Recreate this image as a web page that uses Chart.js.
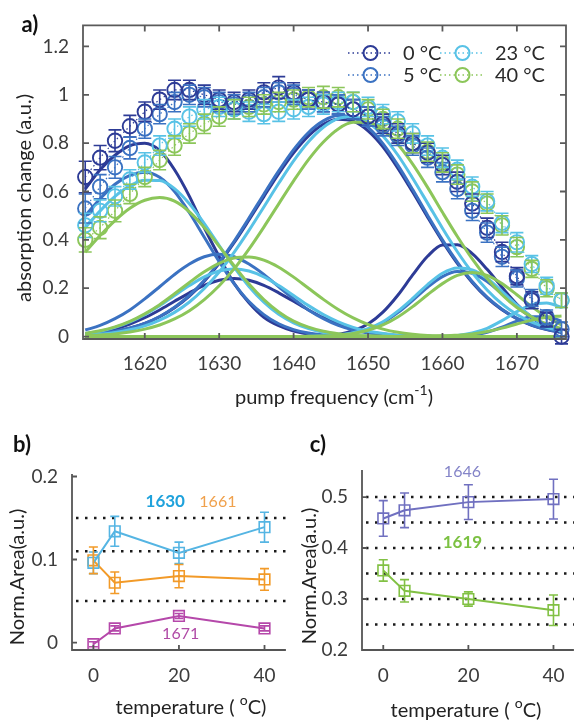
<!DOCTYPE html>
<html>
<head>
<meta charset="utf-8">
<script src="https://cdn.jsdelivr.net/npm/chart.js@4.4.0/dist/chart.umd.min.js"></script>
<style>
  html, body { margin: 0; padding: 0; background: #fff; }
  #fig { position: relative; width: 583px; height: 722px; overflow: hidden; }
  #fig canvas { position: absolute; }
</style>
</head>
<body>
<div id="fig">
  <canvas id="chartA" width="583" height="420" style="left:0;top:0"></canvas>
  <canvas id="chartB" width="295" height="302" style="left:0;top:420px"></canvas>
  <canvas id="chartC" width="288" height="302" style="left:295px;top:420px"></canvas>
</div>
<script>
const FONT = 'Lato, "Open Sans", "DejaVu Sans", sans-serif';
const INK = '#3c3c3c';

// ---- panel a: pump frequency grid (cm-1) and axis ticks
const freq = [1612, 1614, 1616, 1618, 1620, 1622, 1624, 1626, 1628, 1630, 1632, 1634, 1636, 1638, 1640, 1642, 1644,
              1646, 1648, 1650, 1652, 1654, 1656, 1658, 1660, 1662, 1664, 1666, 1668, 1670, 1672, 1674, 1676];
const freqTicks = [1620, 1630, 1640, 1650, 1660, 1670];
const absTicks = [0, 0.2, 0.4, 0.6, 0.8, 1, 1.2];

// measured absorption change (a.u.) and error bars
const absT0  = [0.66, 0.74, 0.81, 0.87, 0.93, 0.98, 1.02, 1.02, 1.00, 0.98, 0.97, 0.98, 1.01, 1.03, 1.01, 0.98, 0.97,
                0.96, 0.94, 0.91, 0.88, 0.84, 0.80, 0.76, 0.71, 0.64, 0.55, 0.45, 0.35, 0.25, 0.15, 0.07, 0.00];
const absT5  = [0.53, 0.62, 0.70, 0.78, 0.86, 0.92, 0.97, 1.00, 0.99, 0.97, 0.96, 0.97, 0.99, 1.01, 1.00, 0.98, 0.97,
                0.96, 0.94, 0.91, 0.87, 0.83, 0.79, 0.74, 0.68, 0.61, 0.52, 0.43, 0.33, 0.24, 0.16, 0.08, 0.03];
const absT23 = [0.46, 0.52, 0.58, 0.65, 0.72, 0.79, 0.86, 0.91, 0.94, 0.95, 0.94, 0.93, 0.92, 0.93, 0.94, 0.95, 0.96,
                0.97, 0.97, 0.95, 0.92, 0.89, 0.84, 0.79, 0.74, 0.69, 0.62, 0.56, 0.47, 0.39, 0.30, 0.21, 0.15];
const absT40 = [0.40, 0.45, 0.52, 0.59, 0.66, 0.73, 0.79, 0.84, 0.88, 0.91, 0.94, 0.95, 0.96, 0.97, 0.98, 0.99, 0.99,
                0.99, 0.97, 0.94, 0.90, 0.86, 0.80, 0.765, 0.72, 0.67, 0.60, 0.55, 0.46, 0.37, 0.28, 0.20, 0.15];
const errT0  = [0.065, 0.05, 0.045, 0.045, 0.04, 0.04, 0.04, 0.04, 0.04, 0.04, 0.04, 0.04, 0.04, 0.045, 0.04, 0.04, 0.04,
                0.04, 0.04, 0.04, 0.04, 0.04, 0.04, 0.04, 0.04, 0.04, 0.04, 0.04, 0.04, 0.035, 0.035, 0.03, 0.03];
const errT5  = [0.06, 0.05, 0.045, 0.045, 0.04, 0.04, 0.04, 0.04, 0.04, 0.04, 0.04, 0.04, 0.04, 0.04, 0.04, 0.04, 0.04,
                0.04, 0.04, 0.04, 0.04, 0.04, 0.04, 0.04, 0.04, 0.04, 0.04, 0.04, 0.04, 0.035, 0.035, 0.03, 0.03];
const errT23 = [0.05, 0.045, 0.04, 0.04, 0.04, 0.04, 0.04, 0.04, 0.04, 0.04, 0.04, 0.04, 0.04, 0.04, 0.04, 0.04, 0.04,
                0.04, 0.04, 0.04, 0.04, 0.04, 0.04, 0.04, 0.04, 0.04, 0.04, 0.04, 0.04, 0.04, 0.035, 0.035, 0.03];
const errT40 = [0.05, 0.045, 0.045, 0.04, 0.04, 0.04, 0.04, 0.04, 0.04, 0.04, 0.04, 0.04, 0.04, 0.04, 0.04, 0.04, 0.045,
                0.04, 0.04, 0.04, 0.04, 0.04, 0.04, 0.04, 0.04, 0.04, 0.04, 0.04, 0.04, 0.04, 0.035, 0.035, 0.03];

// fitted band components on the same grid
const fit0_1619 = [0.61, 0.69, 0.75, 0.79, 0.80, 0.77, 0.69, 0.58, 0.45, 0.33, 0.22, 0.14, 0.08, 0.045, 0.023, 0.011, 0.005,
                   0, 0, 0, 0, 0, 0, 0, 0, 0, 0, 0, 0, 0, 0, 0, 0];
const fit0_1630 = [0.011, 0.019, 0.032, 0.052, 0.078, 0.11, 0.146, 0.181, 0.212, 0.233, 0.24, 0.233, 0.212, 0.181, 0.146, 0.11, 0.078,
                   0.052, 0.032, 0.019, 0.011, 0.005, 0.003, 0.001, 0, 0, 0, 0, 0, 0, 0, 0, 0];
const fit0_1646 = [0.008, 0.013, 0.022, 0.035, 0.054, 0.082, 0.119, 0.167, 0.229, 0.303, 0.388, 0.482, 0.579, 0.674, 0.76, 0.83, 0.878,
                   0.899, 0.891, 0.851, 0.785, 0.697, 0.598, 0.494, 0.394, 0.303, 0.224, 0.160, 0.111, 0.074, 0.047, 0.029, 0.017];
const fit0_1661 = [0, 0, 0, 0, 0, 0, 0, 0, 0, 0, 0, 0, 0, 0, 0, 0.001, 0.003,
                   0.009, 0.024, 0.052, 0.101, 0.171, 0.255, 0.332, 0.379, 0.38, 0.343, 0.278, 0.204, 0.134, 0.08, 0.043, 0.021];
const fit0_1671 = [0, 0, 0, 0, 0, 0, 0, 0, 0, 0, 0, 0, 0, 0, 0, 0, 0,
                   0, 0, 0, 0, 0, 0, 0, 0, 0, 0, 0, 0, 0, 0, 0, 0];

const fit5_1619 = [0.50, 0.57, 0.63, 0.667, 0.68, 0.659, 0.60, 0.512, 0.411, 0.31, 0.219, 0.145, 0.091, 0.053, 0.029, 0.015, 0.007,
                   0.003, 0.001, 0, 0, 0, 0, 0, 0, 0, 0, 0, 0, 0, 0, 0, 0];
const fit5_1630 = [0.027, 0.046, 0.074, 0.11, 0.156, 0.206, 0.257, 0.30, 0.33, 0.34, 0.33, 0.30, 0.257, 0.206, 0.156, 0.11, 0.074,
                   0.046, 0.027, 0.015, 0.008, 0.004, 0.002, 0.001, 0, 0, 0, 0, 0, 0, 0, 0, 0];
const fit5_1646 = [0.008, 0.013, 0.022, 0.036, 0.055, 0.083, 0.121, 0.17, 0.233, 0.308, 0.394, 0.49, 0.589, 0.685, 0.773, 0.844, 0.892,
                   0.914, 0.906, 0.865, 0.798, 0.709, 0.608, 0.502, 0.40, 0.308, 0.228, 0.163, 0.113, 0.075, 0.048, 0.03, 0.018];
const fit5_1661 = [0, 0, 0, 0, 0, 0, 0, 0, 0, 0, 0, 0, 0, 0, 0, 0.001, 0.002,
                   0.006, 0.015, 0.031, 0.058, 0.099, 0.15, 0.204, 0.248, 0.269, 0.262, 0.228, 0.177, 0.124, 0.077, 0.043, 0.021];
const fit5_1671 = [0, 0, 0, 0, 0, 0, 0, 0, 0, 0, 0, 0, 0, 0, 0, 0, 0,
                   0, 0, 0, 0, 0, 0, 0, 0, 0.002, 0.007, 0.018, 0.039, 0.064, 0.082, 0.082, 0.064];

const fit23_1619 = [0.45, 0.52, 0.58, 0.624, 0.647, 0.646, 0.612, 0.549, 0.467, 0.376, 0.287, 0.207, 0.142, 0.092, 0.057, 0.033, 0.018,
                    0.01, 0.005, 0.002, 0, 0, 0, 0, 0, 0, 0, 0, 0, 0, 0, 0, 0];
const fit23_1630 = [0.013, 0.022, 0.038, 0.061, 0.091, 0.128, 0.17, 0.211, 0.247, 0.271, 0.28, 0.271, 0.247, 0.211, 0.17, 0.128, 0.091,
                    0.061, 0.038, 0.022, 0.013, 0.006, 0.003, 0.001, 0, 0, 0, 0, 0, 0, 0, 0, 0];
const fit23_1646 = [0.006, 0.01, 0.017, 0.028, 0.044, 0.068, 0.10, 0.143, 0.199, 0.267, 0.348, 0.439, 0.536, 0.634, 0.727, 0.806, 0.866,
                    0.902, 0.909, 0.885, 0.83, 0.751, 0.655, 0.552, 0.448, 0.351, 0.265, 0.193, 0.135, 0.091, 0.06, 0.038, 0.023];
const fit23_1661 = [0, 0, 0, 0, 0, 0, 0, 0, 0, 0, 0, 0, 0, 0, 0, 0.001, 0.002,
                    0.006, 0.016, 0.033, 0.061, 0.105, 0.158, 0.215, 0.262, 0.284, 0.276, 0.241, 0.187, 0.131, 0.081, 0.045, 0.022];
const fit23_1671 = [0, 0, 0, 0, 0, 0, 0, 0, 0, 0, 0, 0, 0, 0, 0, 0, 0,
                    0, 0, 0, 0, 0, 0, 0, 0.001, 0.005, 0.015, 0.034, 0.066, 0.103, 0.132, 0.139, 0.12];

const fit40_1619 = [0.349, 0.418, 0.48, 0.531, 0.564, 0.575, 0.56, 0.516, 0.451, 0.373, 0.293, 0.217, 0.153, 0.102, 0.064, 0.039, 0.022,
                    0.012, 0.006, 0.003, 0.001, 0, 0, 0, 0, 0, 0, 0, 0, 0, 0, 0, 0];
const fit40_1630 = [0.013, 0.024, 0.04, 0.063, 0.094, 0.132, 0.177, 0.224, 0.268, 0.303, 0.325, 0.329, 0.316, 0.287, 0.246, 0.20, 0.154,
                    0.112, 0.077, 0.05, 0.031, 0.018, 0.01, 0.005, 0.003, 0.001, 0, 0, 0, 0, 0, 0, 0];
const fit40_1646 = [0.004, 0.007, 0.011, 0.019, 0.031, 0.048, 0.073, 0.107, 0.153, 0.21, 0.28, 0.362, 0.453, 0.549, 0.644, 0.732, 0.805,
                    0.859, 0.886, 0.886, 0.854, 0.795, 0.713, 0.617, 0.514, 0.414, 0.321, 0.24, 0.173, 0.12, 0.081, 0.052, 0.033];
const fit40_1661 = [0, 0, 0, 0, 0, 0, 0, 0, 0, 0, 0, 0, 0, 0, 0, 0.001, 0.002,
                    0.006, 0.013, 0.026, 0.048, 0.081, 0.124, 0.173, 0.219, 0.253, 0.265, 0.253, 0.219, 0.173, 0.124, 0.081, 0.048];
const fit40_1671 = [0, 0, 0, 0, 0, 0, 0, 0, 0, 0, 0, 0, 0, 0, 0, 0, 0,
                    0, 0, 0, 0, 0, 0, 0.001, 0.002, 0.006, 0.011, 0.021, 0.035, 0.052, 0.068, 0.08, 0.085];

// ---- panels b and c: normalised band areas vs temperature
const temps = [0, 5, 20, 40];
const tempTicks = [0, 20, 40];
const area1630 = [0.096, 0.134, 0.108, 0.139];
const err1630  = [0.013, 0.018, 0.013, 0.018];
const area1661 = [0.099, 0.072, 0.080, 0.076];
const err1661  = [0.016, 0.013, 0.014, 0.013];
const area1671 = [-0.002, 0.017, 0.032, 0.017];
const err1671  = [0.003, 0.003, 0.003, 0.003];
const areaTicksB = [0, 0.1, 0.2];
const guidesB = [0.05, 0.11, 0.15];

const area1646 = [0.458, 0.474, 0.490, 0.496];
const err1646  = [0.035, 0.034, 0.034, 0.039];
const area1619 = [0.356, 0.316, 0.300, 0.278];
const err1619  = [0.021, 0.022, 0.014, 0.030];
const areaTicksC = [0.2, 0.3, 0.4, 0.5];
const guidesC = [0.25, 0.3, 0.35, 0.4, 0.45, 0.5];

// ---------------------------------------------------------------- plugins
// vertical error bars with caps, for datasets carrying an `errors` array
const errorBars = {
  id: 'errorBars',
  afterDatasetsDraw(chart, args, o) {
    const { ctx } = chart;
    const y = chart.scales.y;
    chart.data.datasets.forEach((ds, i) => {
      if (!ds.errors) return;
      const meta = chart.getDatasetMeta(i);
      ctx.save();
      ctx.strokeStyle = ds.borderColor;
      ctx.lineWidth = o.width;
      ctx.beginPath();
      meta.data.forEach((pt, j) => {
        const v = ds.data[j].y, e = ds.errors[j];
        const top = y.getPixelForValue(v + e), bot = y.getPixelForValue(v - e);
        ctx.moveTo(pt.x, top); ctx.lineTo(pt.x, bot);
        ctx.moveTo(pt.x - o.cap, top); ctx.lineTo(pt.x + o.cap, top);
        ctx.moveTo(pt.x - o.cap, bot); ctx.lineTo(pt.x + o.cap, bot);
      });
      ctx.stroke();
      ctx.restore();
    });
  }
};

// matlab style axes: spines (full box optional) with inward ticks
const frame = {
  id: 'frame',
  afterDatasetsDraw(chart, args, o) {
    const { ctx, chartArea: a, scales: { x, y } } = chart;
    ctx.save();
    ctx.strokeStyle = o.color;
    ctx.lineWidth = o.width;
    ctx.beginPath();
    if (o.box) {
      ctx.rect(a.left, a.top, a.right - a.left, a.bottom - a.top);
    } else {
      ctx.moveTo(a.left, a.top); ctx.lineTo(a.left, a.bottom); ctx.lineTo(a.right, a.bottom);
    }
    x.ticks.forEach(t => {
      const px = x.getPixelForValue(t.value);
      ctx.moveTo(px, a.bottom); ctx.lineTo(px, a.bottom - o.tick);
      if (o.box) { ctx.moveTo(px, a.top); ctx.lineTo(px, a.top + o.tick); }
    });
    y.ticks.forEach(t => {
      const py = y.getPixelForValue(t.value);
      ctx.moveTo(a.left, py); ctx.lineTo(a.left + o.tick, py);
      if (o.box) { ctx.moveTo(a.right, py); ctx.lineTo(a.right - o.tick, py); }
    });
    ctx.stroke();
    ctx.restore();
  }
};

// dotted horizontal guide lines
const guides = {
  id: 'guides',
  beforeDatasetsDraw(chart, args, o) {
    if (!o.values) return;
    const { ctx, chartArea: a, scales: { y } } = chart;
    ctx.save();
    ctx.strokeStyle = o.color;
    ctx.lineWidth = o.width;
    ctx.setLineDash(o.dash);
    o.values.forEach(v => {
      const py = y.getPixelForValue(v);
      ctx.beginPath();
      ctx.moveTo(a.left + 4, py);
      ctx.lineTo(a.right, py);
      ctx.stroke();
    });
    ctx.restore();
  }
};

// two-column legend for the measured series
const cornerLegend = {
  id: 'cornerLegend',
  afterDraw(chart, args, o) {
    const { ctx } = chart;
    const items = chart.data.datasets.filter(ds => ds.errors);
    items.forEach((ds, k) => {
      const x0 = o.x + Math.floor(k / 2) * o.col;
      const y0 = o.y + (k % 2) * o.row;
      ctx.save();
      ctx.strokeStyle = ds.borderColor;
      ctx.lineWidth = 1.5;
      ctx.setLineDash([1.5, 3]);
      ctx.beginPath(); ctx.moveTo(x0, y0); ctx.lineTo(x0 + o.line, y0); ctx.stroke();
      ctx.setLineDash([]);
      ctx.lineWidth = 2;
      ctx.beginPath(); ctx.arc(x0 + o.line / 2, y0, 7, 0, Math.PI * 2); ctx.stroke();
      ctx.fillStyle = '#2a2a2a';
      ctx.font = `20px ${FONT}`;
      ctx.textBaseline = 'middle';
      ctx.textAlign = 'left';
      ctx.fillText(ds.label, x0 + o.line + 10, y0 + 1);
      ctx.restore();
    });
  }
};

function drawText(ctx, t) {
  const weight = t.weight || 'normal';
  const big = `${weight} ${t.size}px ${FONT}`;
  const small = `${weight} ${Math.round(t.size * 0.68)}px ${FONT}`;
  ctx.save();
  ctx.translate(t.x, t.y);
  if (t.rotate) ctx.rotate(t.rotate);
  ctx.textBaseline = 'middle';
  ctx.textAlign = 'left';
  let w = 0;
  t.parts.forEach(([s, sup]) => { ctx.font = sup ? small : big; w += ctx.measureText(s).width; });
  if (t.bg) {
    ctx.fillStyle = t.bg;
    ctx.fillRect(-w / 2 - 2, -t.size * 0.55, w + 4, t.size * 1.1);
  }
  ctx.fillStyle = t.color;
  let cx = -w / 2;
  t.parts.forEach(([s, sup]) => {
    ctx.font = sup ? small : big;
    ctx.fillText(s, cx, sup ? -t.size * 0.36 : 0);
    cx += ctx.measureText(s).width;
  });
  ctx.restore();
}

// panel letters, axis titles and in-plot band labels
const labels = {
  id: 'labels',
  afterDraw(chart, args, o) {
    const { ctx, scales: { x, y } } = chart;
    (o.titles || []).forEach(t => drawText(ctx, t));
    (o.notes || []).forEach(n => drawText(ctx, {
      ...n, parts: [[n.text, 0]], x: x.getPixelForValue(n.at[0]), y: y.getPixelForValue(n.at[1])
    }));
  }
};

const tickFont = { family: FONT, size: 19 };
const pinTicks = list => scale => { scale.ticks = list.map(v => ({ value: v })); };
const up = -Math.PI / 2;

function axis(min, max, ticks, pad, fit) {
  return {
    type: 'linear', min, max,
    grid: { display: false, drawTicks: false },
    border: { display: false },
    afterBuildTicks: pinTicks(ticks),
    afterFit: fit,
    ticks: { autoSkip: false, maxRotation: 0, padding: pad, color: INK, font: tickFont, callback: v => String(v) }
  };
}

const quiet = { legend: { display: false }, tooltip: { enabled: false } };

// ---------------------------------------------------------------- panel a
const series = [
  { label: '0 °C',  color: '#2d3b96', abs: absT0,  err: errT0,  fits: [fit0_1619, fit0_1630, fit0_1646, fit0_1661, fit0_1671] },
  { label: '5 °C',  color: '#3b72c2', abs: absT5,  err: errT5,  fits: [fit5_1619, fit5_1630, fit5_1646, fit5_1661, fit5_1671] },
  { label: '23 °C', color: '#58c2e6', abs: absT23, err: errT23, fits: [fit23_1619, fit23_1630, fit23_1646, fit23_1661, fit23_1671] },
  { label: '40 °C', color: '#8cc65a', abs: absT40, err: errT40, fits: [fit40_1619, fit40_1630, fit40_1646, fit40_1661, fit40_1671] }
];
const onGrid = ys => freq.map((f, i) => ({ x: f, y: ys[i] }));

const measured = series.map(s => ({
  label: s.label, data: onGrid(s.abs), errors: s.err,
  borderColor: s.color, borderWidth: 1.2, borderDash: [1.5, 3],
  pointRadius: 7.2, pointBorderWidth: 1.9, pointBorderColor: s.color,
  pointBackgroundColor: 'rgba(255,255,255,0)', clip: false, order: 0
}));
const fitted = series.flatMap((s, k) => s.fits.map(f => ({
  data: onGrid(f), borderColor: s.color, borderWidth: 3, pointRadius: 0,
  cubicInterpolationMode: 'monotone', order: 4 - k
})));

new Chart(document.getElementById('chartA'), {
  type: 'line',
  data: { datasets: [...measured, ...fitted] },
  options: {
    responsive: false, animation: false, events: [],
    layout: { padding: { left: 0, right: 17, top: 25, bottom: 0 } },
    scales: {
      x: axis(1611.7, 1676.6, freqTicks, 13, s => { s.height = 81; }),
      y: axis(-0.01, 1.287, absTicks, 14, s => { s.width = 83; })
    },
    plugins: {
      ...quiet,
      errorBars: { width: 1.6, cap: 6.5 },
      frame: { box: true, color: '#5a5a5a', width: 1.8, tick: 6 },
      cornerLegend: { x: 348, y: 53, col: 92, row: 22, line: 45 },
      labels: {
        titles: [
          { parts: [['a)', 0]], x: 30, y: 25, size: 22, weight: 'bold', color: '#111' },
          { parts: [['absorption change (a.u.)', 0]], x: 25, y: 198, size: 20, color: '#222', rotate: up },
          { parts: [['pump frequency (cm', 0], ['-1', 1], [')', 0]], x: 334, y: 398, size: 20, color: '#222' }
        ]
      }
    }
  },
  plugins: [errorBars, frame, cornerLegend, labels]
});

// ---------------------------------------------------------------- panels b, c
function areaSeries(values, errors, color) {
  return {
    data: temps.map((t, i) => ({ x: t, y: values[i] })), errors,
    borderColor: color, borderWidth: 2, pointStyle: 'rect', pointRadius: 7.5,
    pointBorderWidth: 1.6, pointBorderColor: color, pointBackgroundColor: 'rgba(255,255,255,0)', clip: false
  };
}

const tempTitle = [['temperature ( ', 0], ['o', 1], ['C)', 0]];

new Chart(document.getElementById('chartB'), {
  type: 'line',
  data: {
    datasets: [
      areaSeries(area1630, err1630, '#55b5e3'),
      areaSeries(area1661, err1661, '#f29a28'),
      areaSeries(area1671, err1671, '#b548aa')
    ]
  },
  options: {
    responsive: false, animation: false, events: [],
    layout: { padding: { left: 0, right: 2, top: 54, bottom: 0 } },
    scales: {
      x: axis(-5, 45, tempTicks, 14, s => { s.height = 72; }),
      y: axis(-0.009, 0.203, areaTicksB, 14, s => { s.width = 72; })
    },
    plugins: {
      ...quiet,
      errorBars: { width: 1.6, cap: 4.5 },
      frame: { box: false, color: '#555', width: 1.8, tick: 5 },
      guides: { values: guidesB, color: '#1a1a1a', width: 2.5, dash: [2.5, 6.5] },
      labels: {
        titles: [
          { parts: [['b)', 0]], x: 22, y: 25, size: 22, weight: 'bold', color: '#111' },
          { parts: [['Norm.Area(a.u.)', 0]], x: 18, y: 157, size: 20, color: '#222', rotate: up },
          { parts: tempTitle, x: 191, y: 288, size: 20, color: '#222' }
        ],
        notes: [
          { text: '1630', at: [16.8, 0.170], size: 17, weight: 'bold', color: '#1fa2dc' },
          { text: '1661', at: [29.1, 0.170], size: 16, color: '#f0a14c' },
          { text: '1671', at: [20.4, 0.010], size: 16, color: '#b04aa6' }
        ]
      }
    }
  },
  plugins: [guides, errorBars, frame, labels]
});

new Chart(document.getElementById('chartC'), {
  type: 'line',
  data: {
    datasets: [
      areaSeries(area1646, err1646, '#7070c0'),
      areaSeries(area1619, err1619, '#82c144')
    ]
  },
  options: {
    responsive: false, animation: false, events: [],
    layout: { padding: { left: 0, right: 0, top: 50, bottom: 0 } },
    scales: {
      x: axis(-5, 44.8, tempTicks, 14, s => { s.height = 72; }),
      y: axis(0.2, 0.553, areaTicksC, 14, s => { s.width = 67; })
    },
    plugins: {
      ...quiet,
      errorBars: { width: 1.6, cap: 4.5 },
      frame: { box: false, color: '#555', width: 1.8, tick: 5 },
      guides: { values: guidesC, color: '#1a1a1a', width: 2.5, dash: [2.5, 6.5] },
      labels: {
        titles: [
          { parts: [['c)', 0]], x: 23, y: 25, size: 22, weight: 'bold', color: '#111' },
          { parts: [['Norm.Area(a.u.)', 0]], x: 15, y: 156, size: 20, color: '#222', rotate: up },
          { parts: tempTitle, x: 171, y: 291, size: 20, color: '#222' }
        ],
        notes: [
          { text: '1646', at: [18.6, 0.549], size: 16, color: '#8484c8' },
          { text: '1619', at: [18.6, 0.410], size: 17, weight: 'bold', color: '#7cc142', bg: '#fff' }
        ]
      }
    }
  },
  plugins: [guides, errorBars, frame, labels]
});
</script>
</body>
</html>
